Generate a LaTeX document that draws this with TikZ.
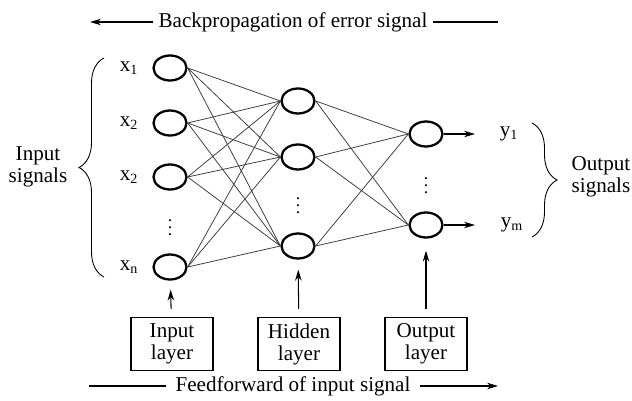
\documentclass[tikz,border=0pt]{standalone}
\usepackage{fontspec}
\setmainfont{Liberation Serif}
\usetikzlibrary{arrows.meta, positioning, shapes.geometric, decorations.pathreplacing}

\begin{document}
\begin{tikzpicture}[
    x=0.2mm, y=-0.2mm,
    >={Stealth[length=2.2mm,width=1.3mm]},
    font=\fontsize{12}{12.5}\selectfont,
    neuron/.style={ellipse, draw, line width=1.3pt, minimum width=6.6mm, minimum height=5mm, inner sep=0pt},
    link/.style={draw=black!75, line width=0.45pt},
    layerbox/.style={draw, line width=0.6pt, minimum width=16.4mm, minimum height=10.6mm, align=center, inner sep=0pt},
    lbl/.style={inner sep=1pt},
    dots/.style={inner sep=0pt, font=\fontsize{10}{10}\selectfont},
    brc/.style={decorate, line width=0.5pt}
]
\useasboundingbox (0,0) rectangle (632,401);

% Input layer
\node[neuron] (i1) at (170,68) {};
\node[neuron] (i2) at (170,123) {};
\node[neuron] (i3) at (170,177) {};
\node[dots] (idots) at (170,222) {$\vdots$};
\node[neuron] (i4) at (170,267) {};

% Hidden layer
\node[neuron] (h1) at (298,101) {};
\node[neuron] (h2) at (298,157) {};
\node[dots] (hdots) at (298,200) {$\vdots$};
\node[neuron] (h3) at (298,246) {};

% Output layer
\node[neuron] (o1) at (426,134) {};
\node[dots] (odots) at (426,180) {$\vdots$};
\node[neuron] (o2) at (426,225) {};

% Labels
\node[lbl] (x1) at (129,68) {x\textsubscript{1}};
\node[lbl] (x2) at (129,123) {x\textsubscript{2}};
\node[lbl] (x3) at (129,177) {x\textsubscript{2}};
\node[lbl] (xn) at (129,267) {x\textsubscript{n}};
\node[lbl] (y1) at (509,134) {y\textsubscript{1}};
\node[lbl] (ym) at (512,225) {y\textsubscript{m}};
\coordinate (t1) at (475,134);
\coordinate (t2) at (475,225);

\node[align=center, inner sep=0pt] (insig) at (38,167) {Input\\signals};
\node[align=center, inner sep=0pt] (outsig) at (601,177) {Output\\signals};

% Braces
\draw[brc, decoration={brace, amplitude=5mm}] (104,277) -- (104,58);
\draw[brc, decoration={brace, amplitude=5mm}] (532,123) -- (532,237);

% Connections
\foreach \a in {i1,i2,i3,i4}
  \foreach \b in {h1,h2,h3}
    \draw[link] (\a.east) -- (\b.west);
\foreach \a in {h1,h2,h3}
  \foreach \b in {o1,o2}
    \draw[link] (\a.east) -- (\b.west);

\draw[->, line width=0.6pt] (o1) -- (t1);
\draw[->, line width=0.6pt] (o2) -- (t2);

% Layer boxes
\node[layerbox] (inbox) at (172,344) {Input\\layer};
\node[layerbox] (hidbox) at (299,344) {Hidden\\layer};
\node[layerbox] (outbox) at (426,344) {Output\\layer};

\draw[->, line width=0.6pt, shorten <=1.6mm, shorten >=1.8mm] (inbox) -- (i4);
\draw[->, line width=0.6pt, shorten <=1.6mm, shorten >=2mm] (hidbox) -- (h3);
\draw[->, line width=0.6pt, shorten <=1.6mm, shorten >=2.4mm] (outbox) -- (o2);

% Signal directions
\node[inner sep=1mm] (back) at (293,22) {Backpropagation of error signal};
\coordinate (backL) at (90,22);
\coordinate (backR) at (498,22);
\draw[->, line width=0.6pt] (back) -- (backL);
\draw[line width=0.6pt] (back) -- (backR);

\node[inner sep=1.8mm] (feed) at (293,386) {Feedforward of input signal};
\coordinate (feedL) at (89,386);
\coordinate (feedR) at (498,386);
\draw[line width=0.6pt] (feed) -- (feedL);
\draw[->, line width=0.6pt] (feed) -- (feedR);
\end{tikzpicture}
\end{document}
